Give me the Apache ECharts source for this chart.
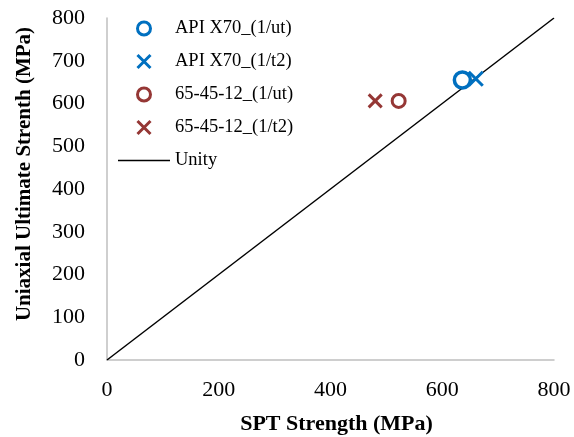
<!DOCTYPE html>
<html><head><meta charset="utf-8">
<script src="https://cdn.jsdelivr.net/npm/echarts@6/dist/echarts.min.js"></script>
<style>html,body{margin:0;padding:0;background:#fff}#c{width:574px;height:437px}</style>
</head><body><div id="c"></div>
<script>
const seriesNames = ['API X70_(1/ut)', 'API X70_(1/t2)', '65-45-12_(1/ut)', '65-45-12_(1/t2)', 'Unity'];
const apiUt = [[636, 655]];
const apiT2 = [[660, 658]];
const ductUt = [[522, 606]];
const ductT2 = [[480, 606]];
const unity = [[0, 0], [800, 800]];
const xTitle = 'SPT Strength (MPa)';
const yTitle = 'Uniaxial Ultimate Strenth (MPa)';

const blue = '#0070C0', red = '#953735';
const cross = 'path://M0,0L10,10M10,0L0,10';
const font = 'Liberation Serif';
const chart = echarts.init(document.getElementById('c'));
chart.setOption({
  animation: false,
  textStyle: {fontFamily: font},
  grid: {left: 107, right: 20, top: 18, bottom: 77, containLabel: false, outerBoundsMode: 'none'},
  legend: {
    orient: 'vertical', left: 118, top: 19, padding: 0, itemGap: 14, itemWidth: 52, itemHeight: 13,
    textStyle: {fontFamily: font, fontSize: 18.5, color: '#000'},
    data: [
      {name: seriesNames[0], icon: 'circle', itemStyle: {color: '#fff', borderColor: blue, borderWidth: 3}},
      {name: seriesNames[1], icon: cross, itemStyle: {color: 'none', borderColor: blue, borderWidth: 3}},
      {name: seriesNames[2], icon: 'circle', itemStyle: {color: '#fff', borderColor: red, borderWidth: 3}},
      {name: seriesNames[3], icon: cross, itemStyle: {color: 'none', borderColor: red, borderWidth: 3}},
      {name: seriesNames[4], icon: 'path://M0,0L52,0L52,1.5L0,1.5Z', itemStyle: {color: '#000', borderWidth: 0}}
    ]
  },
  xAxis: {
    type: 'value', min: 0, max: 800, interval: 200,
    name: xTitle, nameLocation: 'middle', nameGap: 53,
    nameTextStyle: {fontFamily: font, fontSize: 22, fontWeight: 'bold', color: '#000', padding: [0, 0, 0, 12]},
    axisLine: {lineStyle: {color: '#bfbfbf', width: 1.5}},
    axisTick: {show: false}, splitLine: {show: false},
    axisLabel: {fontFamily: font, fontSize: 22, color: '#000', margin: 19}
  },
  yAxis: {
    type: 'value', min: 0, max: 800, interval: 100,
    name: yTitle, nameLocation: 'middle', nameGap: 72,
    nameTextStyle: {fontFamily: font, fontSize: 21, fontWeight: 'bold', color: '#000', padding: [0, 0, 0, 30]},
    axisLine: {show: true, lineStyle: {color: '#bfbfbf', width: 1.5}},
    axisTick: {show: false}, splitLine: {show: false},
    axisLabel: {fontFamily: font, fontSize: 22, color: '#000', margin: 22}
  },
  series: [
    {name: seriesNames[0], type: 'scatter', data: apiUt, symbol: 'circle', symbolSize: 16,
     itemStyle: {color: '#fff', borderColor: blue, borderWidth: 3.5, opacity: 1}, z: 3},
    {name: seriesNames[1], type: 'scatter', data: apiT2, symbol: cross, symbolSize: 14,
     itemStyle: {color: 'none', borderColor: blue, borderWidth: 3, opacity: 1}, z: 3},
    {name: seriesNames[2], type: 'scatter', data: ductUt, symbol: 'circle', symbolSize: 13,
     itemStyle: {color: '#fff', borderColor: red, borderWidth: 3, opacity: 1}, z: 3},
    {name: seriesNames[3], type: 'scatter', data: ductT2, symbol: cross, symbolSize: 13,
     itemStyle: {color: 'none', borderColor: red, borderWidth: 3, opacity: 1}, z: 3},
    {name: seriesNames[4], type: 'line', data: unity, symbol: 'none', showSymbol: false,
     lineStyle: {color: '#000', width: 1.5}, itemStyle: {color: '#000'}, z: 2}
  ]
});
</script></body></html>
